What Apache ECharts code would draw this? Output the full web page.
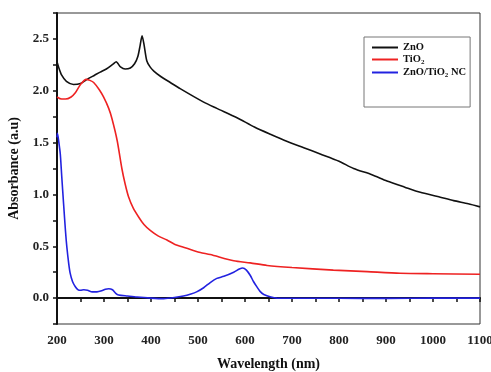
<!DOCTYPE html>
<html>
<head>
<meta charset="utf-8">
<script src="https://cdn.jsdelivr.net/npm/echarts@6/dist/echarts.min.js"></script>
<style>
  html, body { margin: 0; padding: 0; background: #fff; }
  #chart { width: 491px; height: 372px; }
</style>
</head>
<body>
<div id="chart"></div>
<script>
// ZnO
const znoWl = [200, 204, 210, 220, 235, 250, 264, 280, 292, 305, 320, 326, 330, 335, 345, 356, 365, 372, 377, 381, 385, 391, 398, 406, 420, 441, 462, 512, 540, 583, 620, 654, 690, 725, 760, 800, 831, 870, 902, 940, 973, 1010, 1044, 1075, 1100]
const znoAbs = [2.28, 2.22, 2.15, 2.09, 2.06, 2.07, 2.11, 2.15, 2.18, 2.21, 2.26, 2.28, 2.26, 2.23, 2.21, 2.22, 2.26, 2.33, 2.44, 2.53, 2.45, 2.29, 2.23, 2.19, 2.14, 2.08, 2.02, 1.89, 1.83, 1.74, 1.65, 1.58, 1.51, 1.45, 1.39, 1.32, 1.25, 1.19, 1.13, 1.07, 1.02, 0.98, 0.94, 0.91, 0.88]
// TiO2
const tioWl = [200, 210, 218, 230, 239, 250, 262, 270, 278, 290, 299, 310, 317, 328, 338, 345, 352, 362, 374, 385, 399, 415, 434, 450, 469, 490, 505, 526, 576, 611, 647, 700, 788, 860, 930, 1000, 1100]
const tioAbs = [1.94, 1.92, 1.92, 1.94, 1.98, 2.06, 2.11, 2.1, 2.08, 2.01, 1.94, 1.83, 1.73, 1.52, 1.25, 1.1, 0.98, 0.87, 0.78, 0.71, 0.65, 0.6, 0.56, 0.52, 0.49, 0.46, 0.44, 0.42, 0.36, 0.34, 0.315, 0.295, 0.27, 0.255, 0.24, 0.235, 0.23]
// ZnO/TiO2 NC
const ncWl = [200, 201, 204, 207, 210, 214, 218, 221, 225, 228, 233, 239, 245, 250, 257, 265, 275, 285, 295, 303, 310, 318, 325, 331, 350, 370, 400, 427, 450, 469, 485, 497, 512, 526, 540, 555, 576, 588, 595, 603, 611, 618, 625, 632, 640, 655, 668, 800, 900, 1000, 1100]
const ncAbs = [1.55, 1.59, 1.5, 1.39, 1.18, 0.91, 0.65, 0.49, 0.33, 0.24, 0.16, 0.11, 0.08, 0.075, 0.08, 0.075, 0.06, 0.06, 0.07, 0.085, 0.09, 0.08, 0.045, 0.03, 0.02, 0.01, 0.0, -0.005, 0.005, 0.02, 0.04, 0.06, 0.1, 0.15, 0.19, 0.21, 0.25, 0.28, 0.29, 0.27, 0.22, 0.16, 0.11, 0.065, 0.035, 0.01, 0.0, -0.002, -0.003, 0.0, 0.0]

const seriesNames = ['ZnO', 'TiO2', 'ZnO/TiO2 NC']
const xMin = 200, xMax = 1100, xStep = 50
const yMin = -0.25, yMax = 2.75, yStep = 0.25

const pairs = (xs, ys) => xs.map((x, i) => [x, ys[i]])
const serif = '"Liberation Serif", "Times New Roman", serif'

const chart = echarts.init(document.getElementById('chart'))

const mkLine = (name, data, color) => ({
  name,
  type: 'line',
  data,
  symbol: 'none',
  smooth: 0.25,
  lineStyle: { color, width: 1.6 },
  itemStyle: { color },
})

chart.setOption({
  animation: false,
  grid: {
    left: 57, right: 11, top: 13, bottom: 48,
    outerBoundsMode: 'none',
    show: true, borderColor: '#333', borderWidth: 1,
  },
  legend: {
    left: 364, top: 37,
    orient: 'vertical',
    padding: [5, 4, 28, 8],
    itemGap: 1,
    itemWidth: 26, itemHeight: 2,
    icon: 'rect',
    borderColor: '#777', borderWidth: 1,
    textStyle: {
      fontFamily: serif, fontWeight: 'bold', fontSize: 10.5, color: '#111',
      rich: {
        b: { fontFamily: serif, fontWeight: 'bold', fontSize: 10.5, color: '#111', lineHeight: 13 },
        s: { fontFamily: serif, fontWeight: 'bold', fontSize: 7, color: '#111', verticalAlign: 'bottom', lineHeight: 13, padding: [4, 0, 0, 0] },
      },
    },
    formatter(name) {
      const parts = name.split('2')
      if (parts.length === 1) return '{b|' + name + '}'
      return '{b|' + parts[0] + '}{s|2}' + (parts[1] ? '{b|' + parts[1] + '}' : '')
    },
    data: seriesNames,
  },
  xAxis: {
    type: 'value',
    min: xMin, max: xMax, interval: xStep,
    name: 'Wavelength (nm)',
    nameLocation: 'middle',
    nameGap: 33,
    nameTextStyle: { fontFamily: serif, fontWeight: 'bold', fontSize: 14, color: '#111' },
    axisLine: { show: true, lineStyle: { color: '#111', width: 2 } },
    axisTick: { show: true, length: 4, lineStyle: { color: '#111', width: 1.5 } },
    splitLine: { show: false },
    axisLabel: {
      fontFamily: serif, fontWeight: 'bold', fontSize: 13, color: '#222', margin: 10,
      formatter: v => (v % 100 === 0 ? String(v) : ''),
    },
  },
  yAxis: {
    type: 'value',
    min: yMin, max: yMax, interval: yStep,
    name: 'Absorbance (a.u)',
    nameLocation: 'middle',
    nameGap: 33,
    nameTextStyle: { fontFamily: serif, fontWeight: 'bold', fontSize: 14, color: '#111' },
    axisLine: { show: true, lineStyle: { color: '#111', width: 2 } },
    axisTick: { show: true, length: 4, lineStyle: { color: '#111', width: 1.5 } },
    splitLine: { show: false },
    axisLabel: {
      fontFamily: serif, fontWeight: 'bold', fontSize: 13, color: '#222', margin: 8,
      formatter: v => {
        const r = Math.round(v * 100)
        return r % 50 === 0 && r >= 0 && r <= 250 ? (r / 100).toFixed(1) : ''
      },
    },
  },
  series: [
    mkLine(seriesNames[0], pairs(znoWl, znoAbs), '#111'),
    mkLine(seriesNames[1], pairs(tioWl, tioAbs), '#ee2222'),
    mkLine(seriesNames[2], pairs(ncWl, ncAbs), '#2222e0'),
  ],
})
</script>
</body>
</html>
